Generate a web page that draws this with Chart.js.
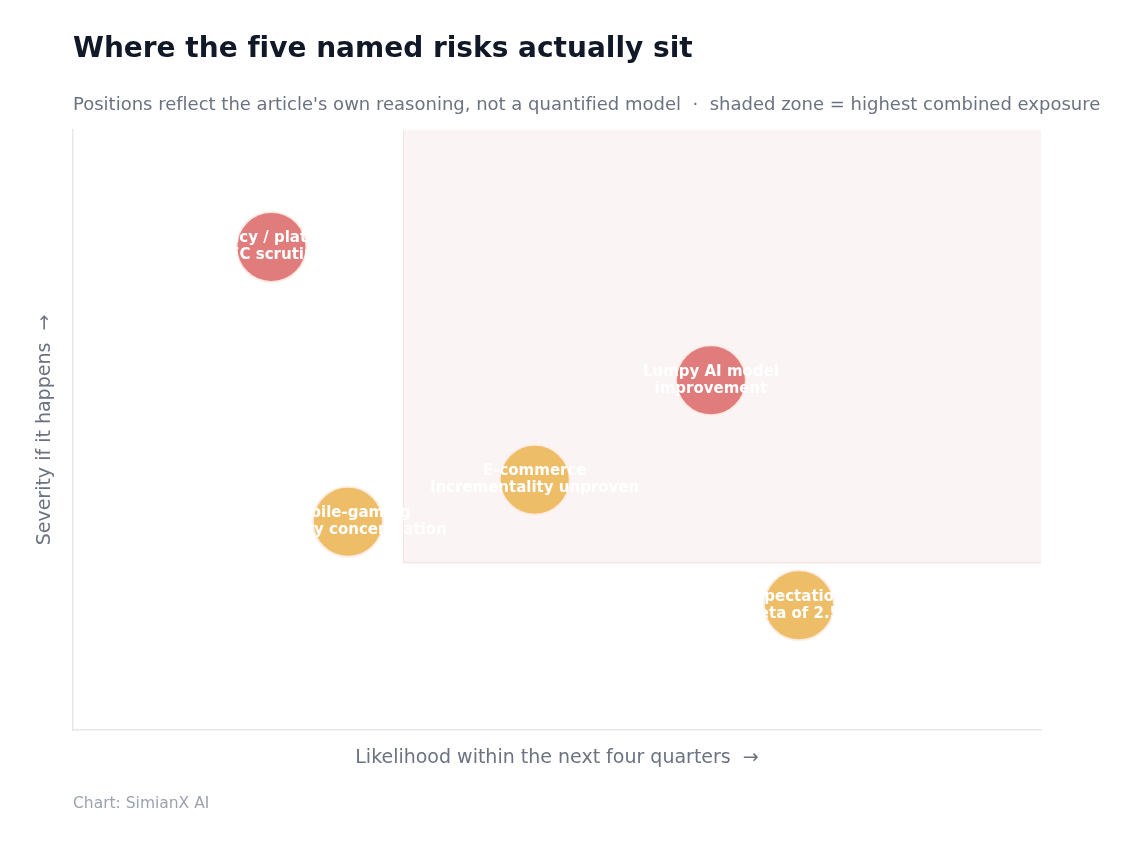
<!DOCTYPE html>
<html>
<head>
<meta charset="utf-8">
<script src="https://cdn.jsdelivr.net/npm/chart.js@4.4.1/dist/chart.umd.min.js"></script>
<style>
  html, body { margin: 0; padding: 0; background: #ffffff; }
  body { width: 1138px; height: 848px; position: relative; overflow: hidden; font-family: "DejaVu Sans", sans-serif; font-variant-ligatures: none; font-feature-settings: "liga" 0; }
  #title { position: absolute; left: 73px; top: 31px; font-size: 28px; font-weight: bold; color: #111827; white-space: nowrap; }
  #subtitle { position: absolute; left: 73px; top: 93px; font-size: 18px; color: #6b7280; white-space: nowrap; }
  #footer { position: absolute; left: 73px; top: 794px; font-size: 15.5px; color: #9ca3af; white-space: nowrap; }
  #wrap { position: absolute; left: 0; top: 0; width: 1138px; height: 848px; }
</style>
</head>
<body>
<div id="wrap"><canvas id="c" width="1138" height="848"></canvas></div>
<div id="title">Where the five named risks actually sit</div>
<div id="subtitle">Positions reflect the article's own reasoning, not a quantified model &nbsp;·&nbsp; shaded zone = highest combined exposure</div>
<div id="footer">Chart: SimianX AI</div>
<script>
// ---- data ----
const riskLine1 = ["Privacy / platform", "Mobile-gaming", "E-commerce", "Lumpy AI model", "Expectations"];
const riskLine2 = ["SEC scrutiny", "category concentration", "incrementality unproven", "improvement", "beta of 2.5x"];
const likelihood = [20.5, 28.4, 47.7, 65.9, 75.0];
const severity = [80.5, 34.7, 41.7, 58.3, 20.8];
const riskLevel = ["high", "medium", "medium", "high", "medium"];
const zoneX = [34.1, 100];
const zoneY = [27.8, 100];
const axisRange = [0, 100];
const xTitle = "Likelihood within the next four quarters  \u2192";
const yTitle = "Severity if it happens  \u2192";

// ---- styles ----
const levelColor = { high: "rgba(224,124,124,1)", medium: "rgba(238,189,104,1)" };

const points = likelihood.map((x, i) => ({ x: x, y: severity[i] }));

const zonePlugin = {
  id: "zone",
  beforeDatasetsDraw(chart) {
    const { ctx, scales: { x, y } } = chart;
    const x0 = x.getPixelForValue(zoneX[0]), x1 = x.getPixelForValue(zoneX[1]);
    const y0 = y.getPixelForValue(zoneY[1]), y1 = y.getPixelForValue(zoneY[0]);
    ctx.save();
    ctx.fillStyle = "#faf4f4";
    ctx.fillRect(x0, y0, x1 - x0, y1 - y0);
    ctx.strokeStyle = "#f6e4e4";
    ctx.lineWidth = 1.2;
    ctx.beginPath();
    ctx.moveTo(x0 + 0.5, y0);
    ctx.lineTo(x0 + 0.5, y1 - 0.5);
    ctx.lineTo(x1, y1 - 0.5);
    ctx.stroke();
    ctx.restore();
  }
};

const labelPlugin = {
  id: "bubbleLabels",
  afterDatasetsDraw(chart) {
    const { ctx } = chart;
    const meta = chart.getDatasetMeta(0);
    ctx.save();
    ctx.font = "bold 15px 'DejaVu Sans'";
    ctx.fillStyle = "#ffffff";
    ctx.textAlign = "center";
    ctx.textBaseline = "middle";
    meta.data.forEach((el, i) => {
      ctx.fillText(riskLine1[i], el.x, el.y - 8.5);
      ctx.fillText(riskLine2[i], el.x, el.y + 8.5);
    });
    ctx.restore();
  }
};

Chart.defaults.font.family = "'DejaVu Sans', sans-serif";

new Chart(document.getElementById("c"), {
  type: "bubble",
  data: {
    datasets: [{
      data: points,
      radius: 35,
      backgroundColor: riskLevel.map(l => levelColor[l]),
      borderColor: "rgba(255,238,232,0.9)",
      borderWidth: 2,
      hoverRadius: 0
    }]
  },
  options: {
    responsive: false,
    animation: false,
    events: [],
    layout: { padding: { left: 0, right: 97, top: 130, bottom: 78 } },
    plugins: { legend: { display: false }, tooltip: { enabled: false } },
    scales: {
      x: {
        type: "linear", min: axisRange[0], max: axisRange[1],
        grid: { display: false },
        border: { display: true, color: "#e5e7eb", width: 1.5 },
        ticks: { display: false },
        title: { display: true, text: xTitle, color: "#6b7280", font: { size: 19 }, padding: { top: 0, bottom: 0.6 } },
        afterFit(s) { s.height = 40; }
      },
      y: {
        type: "linear", min: axisRange[0], max: axisRange[1],
        grid: { display: false },
        border: { display: true, color: "#e5e7eb", width: 1.5 },
        ticks: { display: false },
        title: { display: true, text: yTitle, color: "#6b7280", font: { size: 19 }, padding: { top: 33.6, bottom: 0 } },
        afterFit(s) { s.width = 73; }
      }
    }
  },
  plugins: [zonePlugin, labelPlugin]
});
</script>
</body>
</html>
